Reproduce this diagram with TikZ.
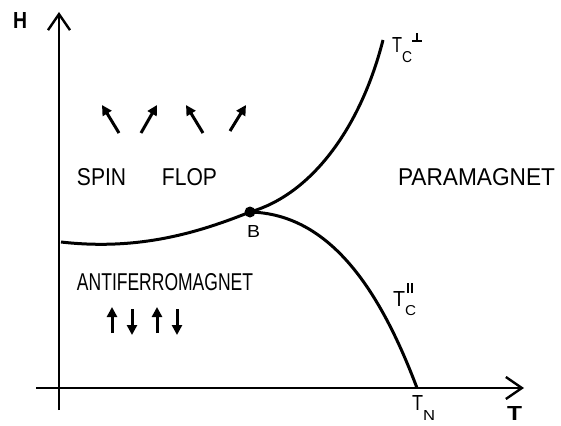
\documentclass[tikz,border=0pt]{standalone}
\usepackage{fontspec}
\setmainfont{Liberation Sans}
\newfontfamily\hfont{Liberation Sans Bold}
\usetikzlibrary{arrows.meta}
\begin{document}
\begin{tikzpicture}[x=1pt,y=-1pt,
  axis/.style={line width=2.4pt,-{Straight Barb[length=16pt,width=22pt]}},
  phase/.style={line width=3pt},
  spin/.style={line width=3pt,-{Triangle[length=10pt,width=10pt]}},
  lbl/.style={inner sep=0pt,outer sep=0pt},
  lblb/.style={inner sep=0pt,outer sep=0pt,anchor=base west}]
\useasboundingbox (0,0) rectangle (561,425);
% axes
\coordinate (vbot) at (59,410);
\coordinate (vtop) at (59,12);
\coordinate (hleft) at (36,388);
\coordinate (hright) at (524,388);
\draw[axis] (vbot) -- (vtop);
\draw[axis] (hleft) -- (hright);
% phase boundaries
\coordinate (L) at (61,242);
\coordinate (B) at (250,212);
\coordinate (TC) at (383,40);
\coordinate (TN) at (417,388);
\draw[phase] (L) .. controls (140,251) and (200,232) .. (B);
\draw[phase] (B) .. controls (310,195) and (360,130) .. (TC);
\draw[phase] (B) .. controls (330,214) and (380,290) .. (TN);
\fill (B) circle (5.5pt);
% labels
\node[lbl] (H) at (20,21) {\resizebox{14pt}{16pt}{\hfont H}};
\node[lbl] (T) at (514.5,413.5) {\resizebox{15pt}{14pt}{\hfont T}};
\node[lbl] (SF) at (147,177.5) {\resizebox{140pt}{17pt}{SPIN\hspace{17pt}FLOP}};
\node[lbl] (PM) at (476.5,177.5) {\resizebox{157pt}{17pt}{PARAMAGNET}};
\node[lbl] (AF) at (165,282) {\resizebox{176pt}{17pt}{ANTIFERROMAGNET}};
\node[lbl] (Bl) at (253.5,231) {\resizebox{13pt}{12pt}{B}};
\node[lblb] (TCperp) at (392,53) {\resizebox{10pt}{15pt}{T}\raisebox{-10pt}{\resizebox{10pt}{11pt}{C}}\raisebox{11pt}{\makebox[10pt][l]{\rule{10pt}{2pt}\hspace{-6pt}\rule{2pt}{9pt}}}};
\node[lblb] (TCpar) at (393,306) {\resizebox{12pt}{15pt}{T}\raisebox{-9pt}{\resizebox{11pt}{10pt}{C}}\hspace{-9pt}\raisebox{13pt}{\rule{1.8pt}{10pt}\hspace{2.5pt}\rule{1.8pt}{10pt}}};
\node[lblb] (TNl) at (412,410) {\resizebox{11pt}{15pt}{T}\raisebox{-10pt}{\resizebox{12pt}{10pt}{N}}};
% spin-flop arrows
\coordinate (s1a) at (119,133); \coordinate (s1b) at (102,105);
\coordinate (s2a) at (141,133); \coordinate (s2b) at (157,105);
\coordinate (s3a) at (203,133); \coordinate (s3b) at (186,105);
\coordinate (s4a) at (230,131); \coordinate (s4b) at (246,105);
\draw[spin] (s1a) -- (s1b);
\draw[spin] (s2a) -- (s2b);
\draw[spin] (s3a) -- (s3b);
\draw[spin] (s4a) -- (s4b);
% antiferromagnet arrows
\coordinate (a1a) at (112,333); \coordinate (a1b) at (112,307);
\coordinate (a2a) at (132,309); \coordinate (a2b) at (132,335);
\coordinate (a3a) at (157,333); \coordinate (a3b) at (157,307);
\coordinate (a4a) at (177,309); \coordinate (a4b) at (177,335);
\draw[spin] (a1a) -- (a1b);
\draw[spin] (a2a) -- (a2b);
\draw[spin] (a3a) -- (a3b);
\draw[spin] (a4a) -- (a4b);
\end{tikzpicture}
\end{document}
